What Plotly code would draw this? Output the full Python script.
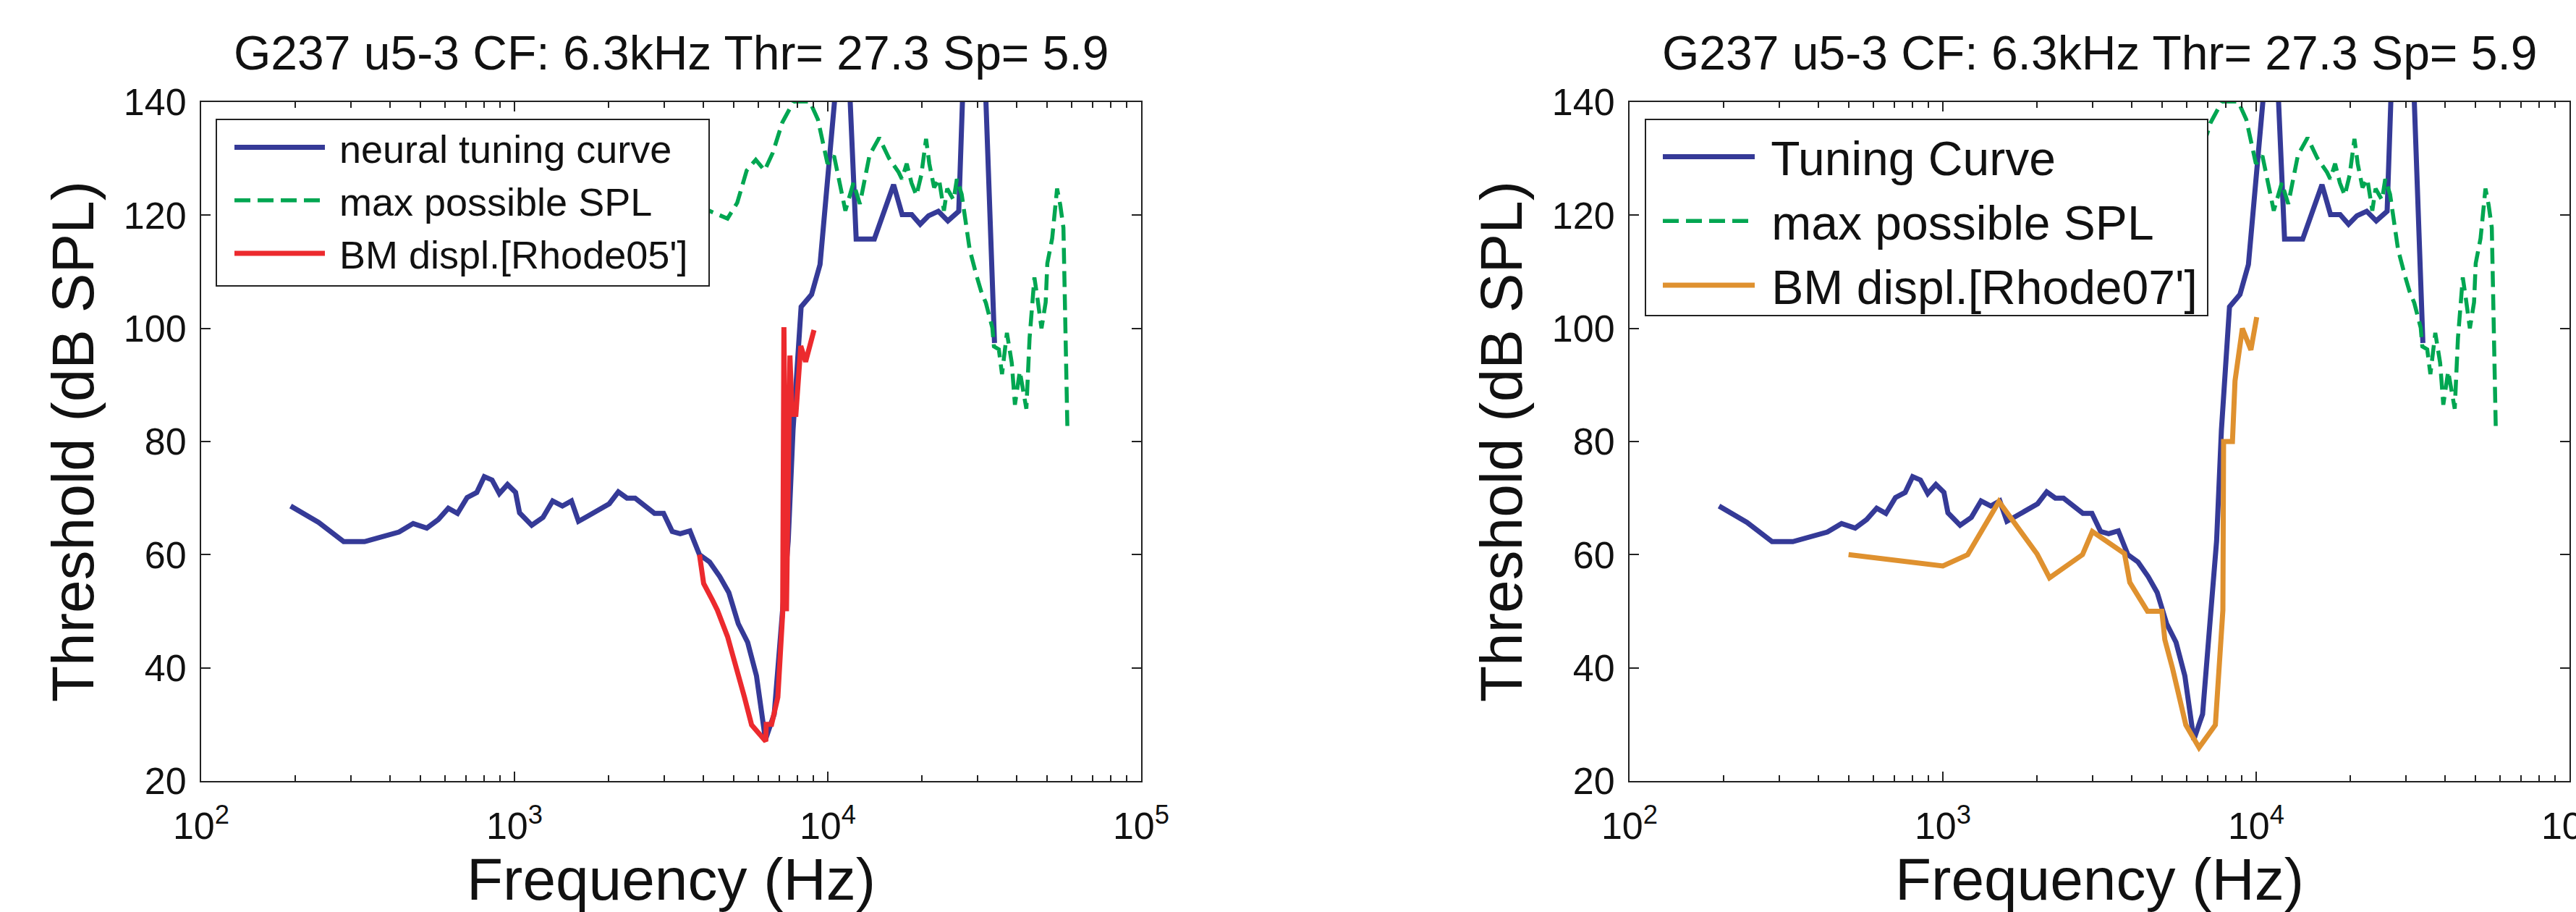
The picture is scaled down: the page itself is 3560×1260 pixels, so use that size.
import plotly.graph_objects as go

W, H = 3560, 1260
FONT = "Liberation Sans, Arial, Helvetica, sans-serif"

# ---------------- data ----------------
tc_freq = [193, 237, 285, 332, 428, 475, 525, 571, 615, 658, 706, 758, 801, 848, 895, 950,
           1008, 1038, 1135, 1233, 1324, 1422, 1520, 1601, 1699, 2007, 2145, 2286, 2427,
           2799, 2991, 3188, 3381, 3631, 3894, 4197, 4524, 4832, 5180, 5550, 5920, 6324,
           6600, 6745, 7173, 7476, 7745, 8096, 8220, 8878, 9447, 11350, 12320, 14080,
           16220, 17270, 18530, 19720, 20970, 22530, 24170, 26180, 29260, 34050]
tc_thr = [68.6, 65.7, 62.3, 62.3, 64.0, 65.5, 64.7, 66.2, 68.2, 67.3, 70.1, 71.0, 73.8, 73.2,
          70.8, 72.4, 71.0, 67.4, 65.2, 66.6, 69.5, 68.6, 69.5, 65.9, 66.7, 69.0, 71.1, 70.0,
          70.0, 67.3, 67.3, 64.1, 63.7, 64.2, 60.0, 58.7, 56.1, 53.3, 47.8, 44.5, 38.6, 27.3,
          30.3, 31.8, 50.2, 62.4, 82.0, 96.6, 103.8, 106.0, 111.3, 161.0, 115.8, 115.8,
          125.4, 120.1, 120.1, 118.4, 119.9, 120.7, 119.0, 120.7, 200.0, 97.4]

spl_freq = [3900, 4180, 4786, 5140, 5510, 5890, 6285, 6670, 7160, 7780, 8760, 9300, 9980,
            10470, 11380, 12070, 12660, 13590, 14590, 15670, 16830, 17240, 17860, 18500,
            19180, 19880, 20590, 21090, 21840, 22640, 23480, 24050, 25220, 25820, 26750,
            28380, 29770, 30840, 31960, 33510, 33900, 35150, 35980, 37300, 38650, 39560,
            41000, 43030, 44060, 45650, 46740, 48090, 49590, 50200, 52020, 53930, 55200,
            56500, 58210]
spl_db = [122.0, 120.8, 119.4, 122.2, 127.9, 129.8, 127.9, 131.0, 136.4, 140.1, 140.1, 136.9,
          129.1, 130.5, 120.8, 125.7, 122.0, 130.6, 133.7, 130.1, 127.6, 126.4, 129.1, 125.7,
          123.5, 127.1, 133.5, 129.1, 124.9, 126.4, 120.8, 124.7, 122.7, 126.4, 123.7, 113.9,
          109.5, 106.6, 104.5, 100.1, 96.8, 96.3, 91.9, 99.2, 93.9, 86.5, 92.4, 85.8, 98.3,
          109.0, 105.1, 100.0, 104.6, 111.5, 115.9, 124.7, 121.8, 117.8, 81.6]

bm05_freq = [3894, 4016, 4290, 4442, 4788, 5117, 5420, 5713, 6340, 6360, 6616, 6928, 7178,
             7244, 7380, 7571, 7690, 7910, 8200, 8495, 9036]
bm05_db = [60.0, 54.9, 51.9, 50.2, 45.5, 40.1, 34.8, 29.9, 27.0, 30.0, 30.0, 34.8, 49.7,
           100.2, 50.0, 95.2, 84.8, 84.8, 96.9, 94.1, 99.7]

bm07_freq = [500, 1000, 1200, 1510, 2000, 2190, 2790, 3000, 3800, 3950, 4500, 5000, 5110,
             5408, 5964, 6570, 7409, 7830, 7870, 8400, 8560, 9035, 9620, 10040]
bm07_db = [60.0, 58.0, 60.0, 69.4, 60.1, 55.9, 60.0, 64.1, 60.2, 55.1, 50.0, 50.0, 45.0,
           39.9, 29.9, 25.9, 29.9, 50.2, 80.0, 80.0, 90.7, 100.0, 96.2, 102.0]

title_text = "G237 u5-3 CF: 6.3kHz Thr= 27.3 Sp= 5.9"
x_label = "Frequency (Hz)"
y_label = "Threshold (dB SPL)"
names_left = ["neural tuning curve", "max possible SPL", "BM displ.[Rhode05']"]
names_right = ["Tuning Curve", "max possible SPL", "BM displ.[Rhode07']"]
xtick_vals = [100, 1000, 10000, 100000]
xtick_text = ["10<sup>2</sup>", "10<sup>3</sup>", "10<sup>4</sup>", "10<sup>5</sup>"]
ytick_vals = [20, 40, 60, 80, 100, 120, 140]
minor_vals = [m * d for d in (100, 1000, 10000) for m in range(2, 10)]

BLUE = "#353a97"
GREEN = "#00a651"
RED = "#ec2a2e"
ORANGE = "#df912f"
AX = "#222222"
LW = 7
GAP = " "  # small gap between legend sample and label

fig = go.Figure()
# left panel
fig.add_trace(go.Scatter(x=tc_freq, y=tc_thr, mode="lines", name=GAP + names_left[0],
                         line=dict(color=BLUE, width=LW), xaxis="x", yaxis="y", legend="legend"))
fig.add_trace(go.Scatter(x=spl_freq, y=spl_db, mode="lines", name=GAP + names_left[1],
                         line=dict(color=GREEN, width=5.5, dash="22px,10px"), xaxis="x", yaxis="y",
                         legend="legend"))
fig.add_trace(go.Scatter(x=bm05_freq, y=bm05_db, mode="lines", name=GAP + names_left[2],
                         line=dict(color=RED, width=LW), xaxis="x", yaxis="y", legend="legend"))
# right panel
fig.add_trace(go.Scatter(x=tc_freq, y=tc_thr, mode="lines", name=GAP + names_right[0],
                         line=dict(color=BLUE, width=LW), xaxis="x2", yaxis="y2", legend="legend2"))
fig.add_trace(go.Scatter(x=spl_freq, y=spl_db, mode="lines", name=GAP + names_right[1],
                         line=dict(color=GREEN, width=5.5, dash="22px,10px"), xaxis="x2", yaxis="y2",
                         legend="legend2"))
fig.add_trace(go.Scatter(x=bm07_freq, y=bm07_db, mode="lines", name=GAP + names_right[2],
                         line=dict(color=ORANGE, width=LW), xaxis="x2", yaxis="y2", legend="legend2"))


def xaxis(domain, anchor):
    return dict(type="log", range=[2, 5], domain=domain, anchor=anchor,
                tickvals=xtick_vals, ticktext=xtick_text, ticks="inside", ticklen=13,
                tickwidth=2, tickcolor=AX, showline=True, linecolor=AX, linewidth=2,
                mirror="ticks", showgrid=False, zeroline=False, automargin=False,
                ticklabeloverflow="allow", ticklabelstandoff=16,
                tickfont=dict(size=52, family=FONT, color="#111"),
                minor=dict(tickvals=minor_vals, ticks="inside", ticklen=8, tickwidth=1.5,
                           tickcolor=AX, showgrid=False),
                title=dict(text=x_label, font=dict(size=82, family=FONT, color="#111"),
                           standoff=14))


def yaxis(domain, anchor):
    return dict(range=[20, 140], domain=domain, anchor=anchor, tickvals=ytick_vals,
                ticks="inside", ticklen=13, tickwidth=2, tickcolor=AX, showline=True,
                linecolor=AX, linewidth=2, mirror="ticks", showgrid=False, zeroline=False,
                automargin=False, ticklabelstandoff=8,
                tickfont=dict(size=52, family=FONT, color="#111"),
                title=dict(text=y_label, font=dict(size=82, family=FONT, color="#111"),
                           standoff=14))


ydom = [1 - 1079 / H, 1 - 141 / H]
xdom1 = [278 / W, 1577 / W]
xdom2 = [2252 / W, 3551 / W]


def box(x0, x1, y0, y1):
    return dict(type="rect", xref="paper", yref="paper", x0=x0 / W, x1=x1 / W,
                y0=1 - y1 / H, y1=1 - y0 / H, line=dict(color=AX, width=2),
                fillcolor="white", layer="above")


def legend(x, y, size, iw):
    return dict(x=x / W, y=1 - y / H, xanchor="left", yanchor="top",
                bgcolor="rgba(0,0,0,0)", borderwidth=0, itemwidth=iw, tracegroupgap=0,
                font=dict(size=size, family=FONT, color="#111"))


fig.update_layout(
    width=W, height=H, margin=dict(l=0, r=0, t=0, b=0),
    paper_bgcolor="white", plot_bgcolor="white",
    font=dict(family=FONT, color="#111"),
    xaxis=xaxis(xdom1, "y"), yaxis=yaxis(ydom, "x"),
    xaxis2=xaxis(xdom2, "y2"), yaxis2=yaxis(ydom, "x2"),
    legend=legend(319, 162, 54, 125),
    legend2=legend(2293, 167, 66, 127),
    showlegend=True,
    shapes=[box(299, 980, 165, 395), box(2274, 3051, 165, 436)],
    annotations=[
        dict(text=title_text, x=sum(xdom1) / 2, y=1 - 73 / H, xref="paper", yref="paper",
             xanchor="center", yanchor="middle", showarrow=False,
             font=dict(size=66, family=FONT, color="#111")),
        dict(text=title_text, x=sum(xdom2) / 2, y=1 - 73 / H, xref="paper", yref="paper",
             xanchor="center", yanchor="middle", showarrow=False,
             font=dict(size=66, family=FONT, color="#111")),
    ],
)

fig.write_html("out.html")
